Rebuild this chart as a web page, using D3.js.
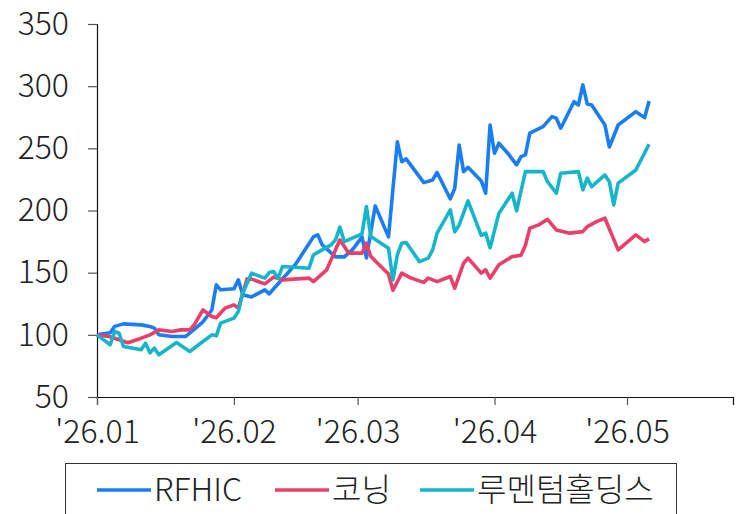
<!DOCTYPE html>
<html>
<head>
<meta charset="utf-8">
<script src="https://cdn.jsdelivr.net/npm/d3@7"></script>
<style>
body { margin: 0; background: #fff; }
svg text { font-family: "Noto Sans CJK KR", sans-serif; font-weight: 200; fill: #222; }
</style>
</head>
<body>
<div id="chart"></div>
<script>
// values (index, start = 100)
var seriesNames = ["RFHIC", "코닝", "루멘텀홀딩스"];
var seriesColors = ["#1a7ef2", "#e8406a", "#17b5c9"];

var rfhic = [
	["2026-01-01",100],["2026-01-04",101.6],["2026-01-05",106.8],["2026-01-07",108.8],["2026-01-11",108],
	["2026-01-13",106.7],["2026-01-14",105.4],["2026-01-15",100],["2026-01-18",98.6],["2026-01-21",98.6],
	["2026-01-22",101.4],["2026-01-25",110.5],["2026-01-27",120],["2026-01-28",140.2],["2026-01-29",136.2],
	["2026-02-01",137],["2026-02-02",144.2],["2026-02-03",132.2],["2026-02-05",130.5],["2026-02-08",136.2],
	["2026-02-09",133],["2026-02-15",157],["2026-02-19",178.8],["2026-02-20",180.4],["2026-02-21",172.3],
	["2026-02-24",162.7],["2026-02-26",162.7],["2026-02-28",169.1],["2026-03-02",178.8],["2026-03-03",161.9],
	["2026-03-05",203.7],["2026-03-08",178.8],["2026-03-10",255.2],["2026-03-11",239.3],["2026-03-12",241.5],
	["2026-03-16",222.4],["2026-03-18",224.6],["2026-03-19",230.6],["2026-03-22",209.3],["2026-03-23",217.9],
	["2026-03-24",252.7],["2026-03-25",231.3],["2026-03-26",234.7],["2026-03-29",223.8],["2026-03-30",213.9],
	["2026-03-31",268.8],["2026-04-01",246.1],["2026-04-02",254.1],["2026-04-04",246.1],["2026-04-06",236.7],
	["2026-04-07",243.3],["2026-04-08",244.7],["2026-04-09",262.2],["2026-04-12",267.5],["2026-04-14",275.5],
	["2026-04-15",274.2],["2026-04-16",266.2],["2026-04-19",287.5],["2026-04-20",284.9],["2026-04-21",301],
	["2026-04-22",285.7],["2026-04-23",284.9],["2026-04-26",268.8],["2026-04-27",251.1],["2026-04-29",268.8],
	["2026-05-03",279.5],["2026-05-05",274.7],["2026-05-06",288.1]
];

var corning = [
	["2026-01-01",100],["2026-01-04",98.4],["2026-01-08",93.6],["2026-01-11",97.3],["2026-01-13",100],
	["2026-01-15",104],["2026-01-18",102.7],["2026-01-20",104],["2026-01-22",104],["2026-01-23",108],
	["2026-01-25",120.1],["2026-01-27",114.7],["2026-01-28",113.7],["2026-01-30",121.5],["2026-02-01",124.1],
	["2026-02-02",121.5],["2026-02-04",145],["2026-02-05",144.8],["2026-02-08",141],["2026-02-10",146.4],
	["2026-02-12",144.2],["2026-02-18",145.6],["2026-02-19",142.8],["2026-02-22",152.3],["2026-02-23",160.3],
	["2026-02-25",176.4],["2026-02-27",165.7],["2026-03-02",165.7],["2026-03-03",173.7],["2026-03-04",163],
	["2026-03-08",149],["2026-03-09",135.8],["2026-03-11",149.6],["2026-03-13",145.8],["2026-03-16",142.2],
	["2026-03-17",145.6],["2026-03-19",142.8],["2026-03-22",146.9],["2026-03-23",137.5],["2026-03-25",157.6],
	["2026-03-26",161.7],["2026-03-29",149.6],["2026-03-30",152.3],["2026-03-31",145.6],["2026-04-02",156.3],
	["2026-04-05",162.9],["2026-04-07",164],["2026-04-08",172],["2026-04-09",185.8],["2026-04-11",188.4],
	["2026-04-13",192.9],["2026-04-15",184.4],["2026-04-18",181.8],["2026-04-21",183],["2026-04-22",187],
	["2026-04-24",190.8],["2026-04-26",193.8],["2026-04-29",168.3],["2026-05-03",180.4],["2026-05-05",175],
	["2026-05-06",177.2]
];

var lumentum = [
	["2026-01-01",100],["2026-01-04",92],["2026-01-05",102.7],["2026-01-06",101.3],["2026-01-07",90.6],
	["2026-01-11",88],["2026-01-12",93.3],["2026-01-13",85.5],["2026-01-14",89.3],["2026-01-15",83.9],
	["2026-01-19",93.8],["2026-01-22",86.6],["2026-01-24",92],["2026-01-27",100],["2026-01-28",99.2],
	["2026-01-29",109.4],["2026-02-01",113.4],["2026-02-02",118.7],["2026-02-03",133.5],["2026-02-05",149.6],
	["2026-02-08",145.6],["2026-02-09",150.1],["2026-02-10",150.9],["2026-02-11",145.6],["2026-02-12",154.9],
	["2026-02-18",153.6],["2026-02-19",164.3],["2026-02-23",172.3],["2026-02-24",176.4],["2026-02-25",186.6],
	["2026-02-26",175],["2026-03-02",181.2],["2026-03-03",203.1],["2026-03-04",179],["2026-03-08",169.7],
	["2026-03-09",144.2],["2026-03-10",164.3],["2026-03-11",173.7],["2026-03-12",174.2],["2026-03-15",158.9],
	["2026-03-17",161.7],["2026-03-18",168.3],["2026-03-19",181.8],["2026-03-22",200.5],["2026-03-23",182.8],
	["2026-03-24",188.4],["2026-03-26",207.7],["2026-03-29",180],["2026-03-30",181.8],["2026-03-31",170],
	["2026-04-02",197.8],["2026-04-05",213.9],["2026-04-06",199.7],["2026-04-08",231.3],["2026-04-12",231.3],
	["2026-04-13",223.2],["2026-04-15",213.9],["2026-04-16",230],["2026-04-20",231.3],["2026-04-21",216.6],
	["2026-04-22",226],["2026-04-23",219.2],["2026-04-26",228.6],["2026-04-27",223.2],["2026-04-28",204.5],
	["2026-04-29",222],["2026-05-03",232.6],["2026-05-06",253.3]
];

var yTicks = [50, 100, 150, 200, 250, 300, 350];
var xTicks = ["2026-01-01", "2026-02-01", "2026-03-01", "2026-04-01", "2026-05-01"];

var parse = d3.utcParse("%Y-%m-%d");

const W = 736, H = 514;
const margin = { top: 24, right: 3, bottom: 117, left: 97 },
	width = W - margin.left - margin.right,
	height = H - margin.top - margin.bottom;

var svg = d3.select("#chart").append("svg")
		.attr("width", W)
		.attr("height", H);

var g = svg.append("g")
		.attr("transform", `translate(${margin.left},${margin.top})`);

var x = d3.scaleUtc([parse("2026-01-01"), parse("2026-05-25")], [0, width]);
var y = d3.scaleLinear([50, 350], [height, 0]);

var xaxis = d3.axisBottom(x)
	.tickValues(xTicks.map(parse))
	.tickFormat(d3.utcFormat("'%y.%m"))
	.tickSizeOuter(0)
	.tickSize(8)
	.tickPadding(15);

var yaxis = d3.axisLeft(y)
	.tickValues(yTicks)
	.tickSizeOuter(0)
	.tickSize(9)
	.tickPadding(19);

g.append("g")
	.attr("class", "yaxis")
	.call(yaxis);

g.append("g")
	.attr("class", "xaxis")
	.attr("transform", `translate(0, ${height})`)
	.call(xaxis);

g.selectAll(".domain").attr("stroke", "#111").attr("stroke-width", 1.2);
g.selectAll(".tick line").attr("stroke", "#555").attr("stroke-width", 1.2);
g.selectAll(".tick text").style("font-size", "32px").attr("fill", "#222");
g.select(".xaxis").selectAll(".tick text").attr("dy", "0.71em");

var line = d3.line(d => x(parse(d[0])), d => y(d[1]));

g.selectAll(".line")
	.data([rfhic, corning, lumentum])
	.join("path")
		.attr("class", "line")
		.attr("fill", "none")
		.attr("stroke", (d, i) => seriesColors[i])
		.attr("stroke-width", 3.6)
		.attr("stroke-linejoin", "round")
		.attr("d", line);

// legend
var legend = svg.append("g");

legend.append("rect")
	.attr("x", 65.5).attr("y", 463.5)
	.attr("width", 611).attr("height", 70)
	.attr("fill", "none")
	.attr("stroke", "#333")
	.attr("stroke-width", 1);

var legX = [97, 275, 420];

var item = legend.selectAll(".leg")
	.data(seriesNames)
	.join("g")
		.attr("class", "leg")
		.attr("transform", (d, i) => `translate(${legX[i]}, 490)`);

item.append("line")
	.attr("x1", 0).attr("x2", 54)
	.attr("stroke", (d, i) => seriesColors[i])
	.attr("stroke-width", 3.6);

item.append("text")
	.attr("x", 57)
	.attr("dy", "0.35em")
	.style("font-size", "32px")
	.text(d => d);
</script>
</body>
</html>
